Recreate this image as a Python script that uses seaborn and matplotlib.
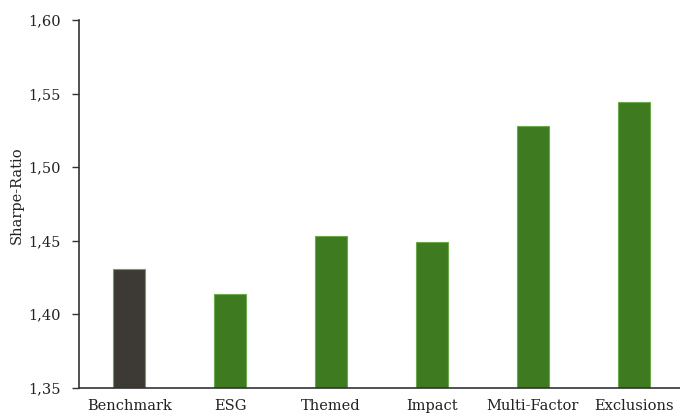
import pandas as pd
import numpy as np
import matplotlib
matplotlib.use("Agg")
import matplotlib.pyplot as plt
import seaborn as sns

# values
strategies = ['Benchmark', 'ESG', 'Themed', 'Impact', 'Multi-Factor', 'Exclusions']
sharpe = [1.431, 1.414, 1.453, 1.449, 1.528, 1.544]
bar_colors = ['#3d3935', '#3e7a1f', '#3e7a1f', '#3e7a1f', '#3e7a1f', '#3e7a1f']
y_ticks = [1.35, 1.40, 1.45, 1.50, 1.55, 1.60]
y_tick_labels = ['1,35', '1,40', '1,45', '1,50', '1,55', '1,60']

df = pd.DataFrame({'Strategy': strategies, 'Sharpe': sharpe})

sns.set_style('white')
plt.rcParams['font.family'] = ['DejaVu Serif']

fig = plt.figure(figsize=(6.8, 4.17), dpi=100)
ax = fig.add_axes([0.116, 0.07, 0.89, 0.882])

sns.barplot(data=df, x='Strategy', y='Sharpe', hue='Strategy',
            palette=bar_colors, saturation=1, width=0.32, legend=False,
            edgecolor='#6aa84a', linewidth=0.8, ax=ax)

ax.set_ylim(1.35, 1.60)
ax.set_xlim(-0.5, len(strategies) - 0.5)
ax.set_yticks(y_ticks)
ax.set_yticklabels(y_tick_labels, fontsize=10.5, color='#222222')
ax.set_ylabel('Sharpe-Ratio', fontsize=10.5, color='#222222')
ax.yaxis.set_label_coords(-0.091, 0.524)
ax.set_xlabel('')

# category labels without ticks, tick marks on the boundaries
ax.tick_params(axis='x', which='major', length=0, labelsize=10.5, labelcolor='#222222', pad=8)
ax.set_xticks(np.arange(-0.5, len(strategies) - 0.5, 1.0), minor=True)
ax.tick_params(axis='x', which='minor', length=5, width=1, color='#333333', direction='out')
ax.tick_params(axis='y', length=5, width=1, color='#333333', direction='out', left=True, pad=8)

for side in ['top', 'right']:
    ax.spines[side].set_visible(False)
for side in ['left', 'bottom']:
    ax.spines[side].set_color('#333333')
    ax.spines[side].set_linewidth(1.2)

fig.savefig('out.png', dpi=100)
